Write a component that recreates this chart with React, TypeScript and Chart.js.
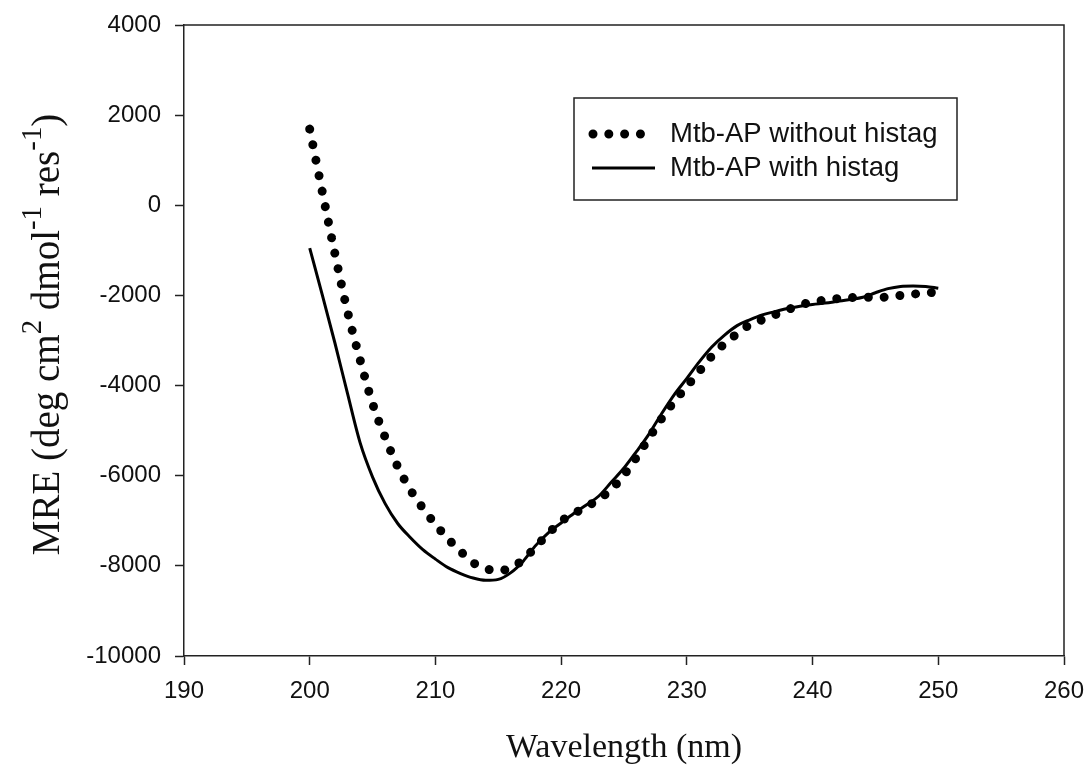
import React, { useEffect, useRef } from "react";
import { Chart, registerables } from "chart.js";

Chart.register(...registerables);

// Wavelength in nm
const wavelengthNm = [
  200, 201, 202, 203, 204, 205, 206, 207, 208, 209,
  210, 211, 212, 213, 214, 215, 216, 217, 218, 219,
  220, 221, 222, 223, 224, 225, 226, 227, 228, 229,
  230, 231, 232, 233, 234, 235, 236, 237, 238, 239,
  240, 241, 242, 243, 244, 245, 246, 247, 248, 249,
  250,
];

// MRE, Mtb-AP without histag (dotted)
const withoutHistag = [
  1690, 300, -1070, -2350, -3420, -4400, -5150, -5800, -6310, -6720,
  -7080, -7400, -7680, -7930, -8060, -8110, -8040, -7860, -7570, -7280,
  -7010, -6840, -6690, -6520, -6300, -5980, -5590, -5160, -4730, -4350,
  -4020, -3680, -3340, -3070, -2850, -2650, -2540, -2430, -2320, -2210,
  -2150, -2100, -2070, -2050, -2040, -2040, -2035, -2000, -1970, -1950,
  -1920,
];

// MRE, Mtb-AP with histag (solid)
const withHistag = [
  -950, -1990, -3050, -4170, -5260, -6030, -6620, -7060, -7370, -7640,
  -7850, -8040, -8170, -8270, -8320, -8300, -8150, -7890, -7540, -7260,
  -7050, -6840, -6650, -6450, -6140, -5830, -5460, -5070, -4620, -4200,
  -3840, -3470, -3140, -2880, -2670, -2540, -2430, -2360, -2290, -2240,
  -2200, -2170, -2130, -2090, -2040, -1940, -1850, -1800, -1790, -1800,
  -1840,
];

const seriesLabels = ["Mtb-AP without histag", "Mtb-AP with histag"];
const xTickValues = [190, 200, 210, 220, 230, 240, 250, 260];
const yTickValues = [-10000, -8000, -6000, -4000, -2000, 0, 2000, 4000];
const xTitle = "Wavelength (nm)";
// [text, isSuperscript]
const yTitleParts: [string, boolean][] = [
  ["MRE (deg cm", false],
  ["2", true],
  [" dmol", false],
  ["-1", true],
  [" res", false],
  ["-1", true],
  [")", false],
];

const SANS = "'Liberation Sans', Arial, sans-serif";
const SERIF = "'Liberation Serif', 'Times New Roman', serif";
const DOT_DASH = [0.01, 15.8];

const decorPlugin = {
  id: "decor",
  afterDraw(chart: any) {
    const ctx: CanvasRenderingContext2D = chart.ctx;
    const area = chart.chartArea;
    ctx.save();
    // frame top/right
    ctx.strokeStyle = "#222";
    ctx.lineWidth = 1.5;
    ctx.beginPath();
    ctx.moveTo(area.left, area.top);
    ctx.lineTo(area.right, area.top);
    ctx.lineTo(area.right, area.bottom);
    ctx.stroke();

    // x title
    ctx.fillStyle = "#111";
    ctx.font = `34px ${SERIF}`;
    ctx.textAlign = "center";
    ctx.textBaseline = "alphabetic";
    ctx.fillText(xTitle, (area.left + area.right) / 2, 757);

    // y title with superscripts
    const base = 39;
    const supSize = base * 0.74;
    let total = 0;
    const widths = yTitleParts.map(([t, sup]) => {
      ctx.font = `${sup ? supSize : base}px ${SERIF}`;
      const w = ctx.measureText(t).width;
      total += w;
      return w;
    });
    ctx.save();
    ctx.translate(46, (area.top + area.bottom) / 2 - 6);
    ctx.rotate(-Math.PI / 2);
    ctx.textAlign = "left";
    let x = -total / 2;
    const baseline = base * 0.33;
    yTitleParts.forEach(([t, sup], i) => {
      ctx.font = `${sup ? supSize : base}px ${SERIF}`;
      ctx.fillText(t, x, sup ? baseline - base * 0.45 : baseline);
      x += widths[i];
    });
    ctx.restore();

    // legend
    const bx = 574, by = 98, bw = 383, bh = 102;
    ctx.lineWidth = 1.5;
    ctx.strokeStyle = "#222";
    ctx.strokeRect(bx, by, bw, bh);
    const rows = [134, 168];
    chart.data.datasets.forEach((ds: any, i: number) => {
      const y = rows[i];
      ctx.save();
      ctx.strokeStyle = ds.borderColor;
      ctx.lineWidth = ds.borderWidth;
      ctx.lineCap = ds.borderCapStyle || "butt";
      ctx.setLineDash(ds.borderDash || []);
      ctx.beginPath();
      if (ds.borderDash && ds.borderDash.length) {
        ctx.moveTo(593, y);
        ctx.lineTo(643, y);
      } else {
        ctx.moveTo(592, y);
        ctx.lineTo(655, y);
      }
      ctx.stroke();
      ctx.restore();
      ctx.fillStyle = "#111";
      ctx.font = `27.5px ${SANS}`;
      ctx.textAlign = "left";
      ctx.textBaseline = "middle";
      ctx.fillText(ds.label, 670, y);
    });
    ctx.restore();
  },
};

export default function App() {
  const ref = useRef<HTMLCanvasElement>(null);

  useEffect(() => {
    document.body.style.margin = "0";
    const canvas = ref.current;
    if (!canvas) return;
    const chart = new Chart(canvas, {
      type: "line",
      data: {
        datasets: [
          {
            label: seriesLabels[0],
            data: wavelengthNm.map((x, i) => ({ x, y: withoutHistag[i] })),
            borderColor: "#000",
            borderWidth: 9,
            borderDash: DOT_DASH,
            borderCapStyle: "round",
            pointRadius: 0,
            fill: false,
            cubicInterpolationMode: "monotone",
          },
          {
            label: seriesLabels[1],
            data: wavelengthNm.map((x, i) => ({ x, y: withHistag[i] })),
            borderColor: "#000",
            borderWidth: 3,
            pointRadius: 0,
            fill: false,
            cubicInterpolationMode: "monotone",
          },
        ],
      },
      options: {
        responsive: false,
        animation: false,
        events: [],
        layout: { padding: { top: 25, right: 27, left: 0, bottom: 0 } },
        plugins: { legend: { display: false }, tooltip: { enabled: false } },
        scales: {
          x: {
            type: "linear",
            min: 190,
            max: 260,
            afterBuildTicks: (s: any) => {
              s.ticks = xTickValues.map((v) => ({ value: v }));
            },
            afterFit: (s: any) => {
              s.height = 115;
              s.paddingLeft = 0;
              s.paddingRight = 0;
            },
            grid: {
              drawOnChartArea: false,
              drawTicks: true,
              tickLength: 9,
              tickColor: "#222",
              tickWidth: 1.5,
            },
            border: { display: true, color: "#222", width: 1.5 },
            ticks: {
              color: "#111",
              font: { family: SANS, size: 24 },
              padding: 12,
              maxRotation: 0,
              autoSkip: false,
              callback: (v: any) => String(v),
            },
          },
          y: {
            type: "linear",
            min: -10000,
            max: 4000,
            afterBuildTicks: (s: any) => {
              s.ticks = yTickValues.map((v) => ({ value: v }));
            },
            afterFit: (s: any) => {
              s.width = 184;
              s.paddingTop = 0;
              s.paddingBottom = 0;
            },
            grid: {
              drawOnChartArea: false,
              drawTicks: true,
              tickLength: 9,
              tickColor: "#222",
              tickWidth: 1.5,
            },
            border: { display: true, color: "#222", width: 1.5 },
            ticks: {
              color: "#111",
              font: { family: SANS, size: 24 },
              padding: 14,
              autoSkip: false,
              callback: (v: any) => String(v),
            },
          },
        },
      },
      plugins: [decorPlugin],
    } as any);
    return () => chart.destroy();
  }, []);

  return <canvas ref={ref} width={1091} height={771} style={{ display: "block" }} />;
}
